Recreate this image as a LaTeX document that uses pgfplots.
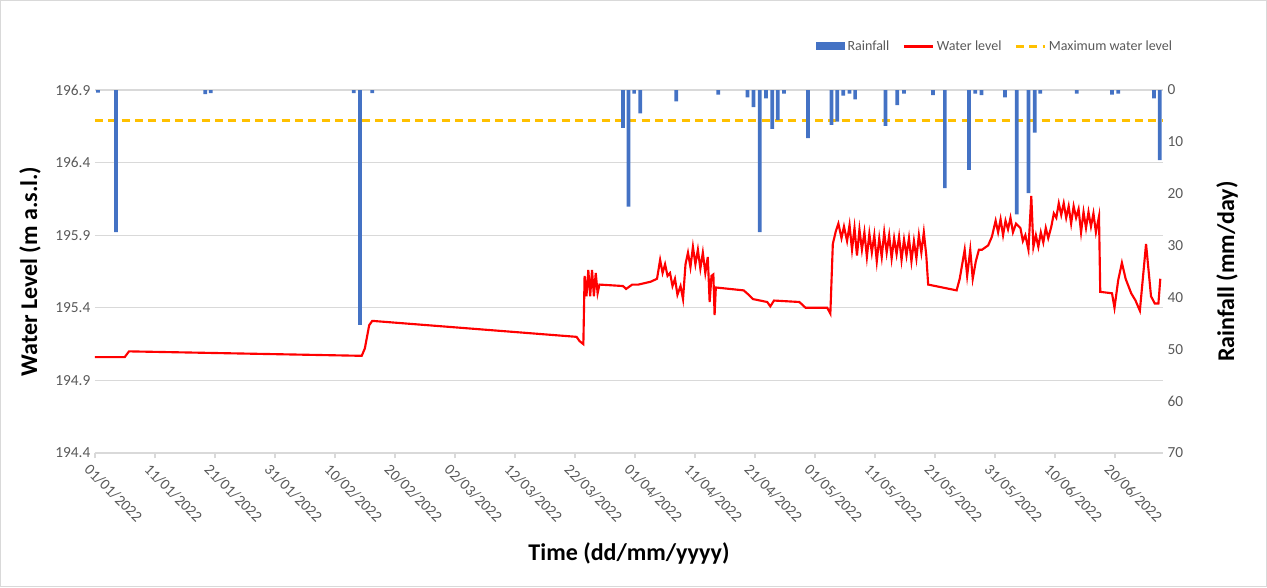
\documentclass[border=0pt]{standalone}
\usepackage{pgfplots}
\pgfplotsset{compat=1.18}
\usepackage{pgfplotstable}
\usepackage{fontspec}
\setmainfont{Carlito}
\definecolor{rain}{HTML}{4472C4}
\definecolor{maxc}{HTML}{FFC000}
\definecolor{tickc}{HTML}{595959}
\definecolor{gridc}{HTML}{D9D9D9}
\pgfplotstableread{
d r
-0.8 0.5
2.1 27.4
16.5 0.8
17.4 0.6
40.5 0.6
41.5 45.3
43.5 0.6
84.0 7.3
84.9 22.5
85.8 0.7
86.8 4.5
92.6 2.2
99.4 0.9
104.1 1.4
105.1 3.3
106.1 27.4
107.1 1.6
108.1 7.5
109.0 5.8
110.0 0.7
113.9 9.3
117.7 6.7
118.6 6.1
119.6 1.1
120.6 0.7
121.5 1.8
126.4 6.9
128.3 2.9
129.4 0.7
134.1 1.0
136.0 18.9
139.9 15.4
140.9 0.7
141.9 1.0
145.7 1.4
147.6 24.0
149.5 19.9
150.5 8.2
151.4 0.7
157.3 0.7
163.0 0.9
164.0 0.7
169.8 1.6
170.7 13.5
}\rain
\pgfplotstableread{
d w
-1.3 195.06
3.5 195.06
4.2 195.10
41 195.07
41.8 195.07
42.3 195.12
43 195.28
43.5 195.31
76.5 195.20
77 195.17
77.6 195.15
77.8 195.62
78.1 195.48
78.4 195.66
78.7 195.48
79.0 195.66
79.3 195.48
79.6 195.64
79.9 195.50
80.2 195.56
84 195.55
84.5 195.53
85.5 195.56
86.5 195.56
88.5 195.58
89.5 195.60
90.0 195.73
90.4 195.64
90.8 195.70
91.2 195.62
91.6 195.64
92 195.55
92.4 195.60
92.8 195.49
93.3 195.55
93.7 195.46
94.1 195.70
94.5 195.78
94.9 195.68
95.3 195.82
95.7 195.70
96.1 195.80
96.5 195.67
96.9 195.78
97.3 195.64
97.7 195.75
98.0 195.44
98.3 195.62
98.6 195.63
98.8 195.35
99.0 195.54
103.5 195.52
104.3 195.49
105 195.46
107.3 195.44
107.8 195.41
108.4 195.45
112.5 195.44
113.5 195.40
117 195.40
117.5 195.36
117.9 195.84
118.4 195.93
118.8 195.98
119.3 195.88
119.7 195.96
120.2 195.86
120.6 195.97
121 195.80
121.4 195.95
121.8 195.76
122.2 195.94
122.6 195.80
123 195.92
123.4 195.75
123.8 195.91
124.2 195.78
124.6 195.90
125 195.72
125.4 195.88
125.8 195.75
126.2 195.92
126.6 195.78
127.0 195.90
127.4 195.74
127.8 195.88
128.2 195.77
128.6 195.89
129.0 195.73
129.4 195.87
129.8 195.76
130.2 195.88
130.6 195.72
131.0 195.86
131.4 195.74
131.8 195.90
132.2 195.78
132.6 195.92
133.0 195.76
133.3 195.56
137.9 195.52
138.4 195.60
139.2 195.80
139.6 195.62
140.1 195.80
140.5 195.60
141 195.72
141.5 195.80
142 195.80
143 195.83
143.6 195.89
144.2 196.00
144.6 195.92
145 196.01
145.4 195.90
145.8 196.00
146.2 195.94
146.6 196.02
147 195.92
147.5 195.98
148.2 195.95
148.6 195.86
149 195.90
149.5 195.80
149.96 196.17
150.3 195.82
150.7 195.90
151.1 195.82
151.5 195.92
151.9 195.85
152.3 195.95
152.7 195.88
153.2 195.96
153.6 196.05
154 196.02
154.4 196.12
154.8 196.04
155.2 196.12
155.6 196.02
156 196.10
156.4 195.98
156.8 196.10
157.2 196.02
157.6 196.08
158 195.92
158.4 196.06
158.8 195.95
159.2 196.06
159.6 195.96
160 196.05
160.4 195.92
160.9 196.03
161.1 195.51
163 195.50
163.4 195.40
164 195.59
164.6 195.71
165.2 195.60
166.1 195.50
166.8 195.45
167.5 195.38
168.5 195.84
169.3 195.48
169.9 195.43
170.5 195.43
170.8 195.60
}\wl
\begin{document}
\begin{tikzpicture}
\useasboundingbox (-71.25pt,-100.5pt) rectangle (879pt,339.75pt);
\draw[gridc] (-70.9pt,-100.1pt) rectangle (878.6pt,339.4pt);
\pgfplotsset{every axis/.style={scale only axis, width=801pt, height=272.25pt,
  xmin=0, xmax=178, ytick style={draw=none},
  ticklabel style={font=\fontsize{11.5}{12}\selectfont, text=tickc},
  /pgf/number format/assume math mode=true}}
\begin{axis}[
  ymin=194.4, ymax=196.9, ytick={194.4,194.9,...,196.9},
  yticklabel style={/pgf/number format/fixed,/pgf/number format/precision=1,/pgf/number format/fixed zerofill},
  ymajorgrids, grid style={gridc, line width=0.8pt},
  axis line style={draw=none},
  xtick={0,10,...,170}, xtick pos=bottom, xtick align=outside,
  xtick style={draw=gridc, line width=0.8pt}, major tick length=4pt,
  xticklabels={01/01/2022,11/01/2022,21/01/2022,31/01/2022,10/02/2022,20/02/2022,02/03/2022,12/03/2022,22/03/2022,01/04/2022,11/04/2022,21/04/2022,01/05/2022,11/05/2022,21/05/2022,31/05/2022,10/06/2022,20/06/2022},
  xticklabel style={rotate=-45, anchor=north west, xshift=-3pt, yshift=-1pt},
  ylabel={\bfseries Water Level (m a.s.l.)},
  ylabel style={font=\fontsize{18}{20}\selectfont, yshift=4pt},
  xlabel={\bfseries Time (dd/mm/yyyy)},
  xlabel style={font=\fontsize{18}{20}\selectfont, yshift=-6pt},
]
\draw[gridc, line width=0.8pt] (axis cs:0,194.4) -- (axis cs:178,194.4);
\addplot[red, line width=1.6pt, mark=none] table[x expr={1.333+1.0317*\thisrow{d}}, y=w] {\wl};
\addplot[maxc, dashed, dash pattern=on 6pt off 4pt, line width=1.6pt, mark=none] coordinates {(0,196.69) (178,196.69)};
\end{axis}
\begin{axis}[
  ymin=0, ymax=70, y dir=reverse, ytick={0,10,...,70},
  axis y line*=right, axis x line=none, axis line style={draw=none},
  xtick=\empty,
  ylabel={\bfseries Rainfall (mm/day)},
  ylabel style={font=\fontsize{18}{20}\selectfont, yshift=-18pt},
  legend style={at={(1.015,1.12)}, anchor=east, draw=none, fill=none,
    legend columns=3, font=\fontsize{10.5}{12}\selectfont, text=tickc,
    /tikz/every even column/.append style={column sep=8pt}},
  legend image code/.code={\draw[#1] (0pt,0pt) -- (22pt,0pt);},
]
\addplot[ybar, bar width=2.8pt, draw=none, fill=rain, legend image code/.code={\fill[rain] (0pt,-3pt) rectangle (22pt,3pt);}] table[x expr={1.333+1.0317*\thisrow{d}}, y=r] {\rain};
\addlegendentry{Rainfall}
\addlegendimage{red, line width=1.6pt}
\addlegendentry{Water level}
\addlegendimage{maxc, dash pattern=on 6pt off 4pt, line width=1.6pt}
\addlegendentry{Maximum water level}
\end{axis}
\end{tikzpicture}
\end{document}
